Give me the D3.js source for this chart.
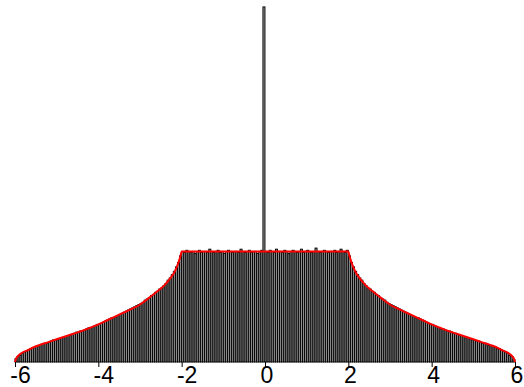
<!DOCTYPE html>
<html>
<head>
<meta charset="utf-8">
<script src="https://cdn.jsdelivr.net/npm/d3@7"></script>
<style>
  body { margin: 0; background: #fff; }
  .xAxis text { font-family: Arial, "Liberation Sans", sans-serif; font-size: 23px; fill: #000; }
</style>
</head>
<body>
<div id="chart"></div>
<script>
// histogram: 240 bins of width 0.05 starting at -6
const binStart = -6;
const binWidth = 0.05;

// left tail, x from -6 to -2
const leftTail = [
    0.03, 0.05, 0.06, 0.08, 0.09, 0.10, 0.11, 0.12, 0.13, 0.13,
    0.14, 0.15, 0.16, 0.16, 0.17, 0.17, 0.18, 0.19, 0.20, 0.20,
    0.20, 0.21, 0.22, 0.22, 0.23, 0.24, 0.24, 0.25, 0.26, 0.27,
    0.27, 0.28, 0.28, 0.29, 0.30, 0.31, 0.31, 0.32, 0.33, 0.34,
    0.34, 0.35, 0.36, 0.37, 0.38, 0.39, 0.40, 0.40, 0.41, 0.42,
    0.43, 0.44, 0.45, 0.46, 0.47, 0.48, 0.49, 0.50, 0.51, 0.52,
    0.53, 0.54, 0.56, 0.57, 0.58, 0.60, 0.61, 0.63, 0.64, 0.66,
    0.67, 0.69, 0.71, 0.74, 0.76, 0.79, 0.82, 0.86, 0.90, 0.96
];

// flat middle, x from -2 to 2 (spike in the bin just left of 0)
const middle = [
    1.00, 0.99, 1.01, 1.00, 0.99, 1.00, 0.98, 1.00, 1.01, 0.99,
    1.00, 1.00, 0.99, 1.02, 1.00, 0.99, 1.00, 1.01, 0.99, 1.00,
    0.98, 1.00, 1.01, 1.00, 0.99, 1.00, 1.00, 0.99, 1.02, 1.00,
    0.99, 1.00, 1.01, 0.99, 1.00, 1.00, 0.98, 1.00, 1.01, 3.21,
    1.00, 0.99, 1.01, 1.00, 0.99, 1.02, 1.00, 1.00, 0.99, 1.01,
    1.00, 0.98, 1.00, 1.01, 1.00, 0.99, 1.00, 1.02, 0.99, 1.00,
    1.01, 1.00, 0.99, 1.00, 1.03, 1.00, 0.99, 1.00, 1.01, 1.00,
    0.99, 1.00, 1.00, 1.01, 0.99, 1.00, 1.02, 1.00, 0.99, 1.01
];

// right tail, x from 2 to 6
const rightTail = [
    0.96, 0.90, 0.86, 0.82, 0.79, 0.76, 0.74, 0.71, 0.69, 0.67,
    0.66, 0.64, 0.63, 0.61, 0.60, 0.58, 0.57, 0.56, 0.54, 0.53,
    0.52, 0.51, 0.50, 0.49, 0.48, 0.47, 0.46, 0.45, 0.44, 0.43,
    0.42, 0.41, 0.40, 0.40, 0.39, 0.38, 0.37, 0.36, 0.35, 0.34,
    0.34, 0.33, 0.32, 0.31, 0.30, 0.30, 0.29, 0.28, 0.28, 0.27,
    0.26, 0.26, 0.25, 0.24, 0.24, 0.23, 0.22, 0.22, 0.21, 0.20,
    0.20, 0.19, 0.19, 0.18, 0.17, 0.17, 0.16, 0.15, 0.15, 0.14,
    0.13, 0.12, 0.12, 0.11, 0.10, 0.09, 0.08, 0.06, 0.05, 0.02
];

// red density curve
const curveX = [
    -6, -5.98, -5.95, -5.9, -5.8, -5.7, -5.6, -5.4, -5.2, -5.0, -4.8, -4.6, -4.4, -4.2,
    -4.0, -3.8, -3.6, -3.4, -3.2, -3.0, -2.8, -2.6, -2.5, -2.4, -2.3, -2.2, -2.15, -2.1,
    -2.05, -2.02, -2.0,
    2.0, 2.02, 2.05, 2.1, 2.15, 2.2, 2.3, 2.4, 2.5, 2.6, 2.8, 3.0, 3.2, 3.4, 3.6, 3.8,
    4.0, 4.2, 4.4, 4.6, 4.8, 5.0, 5.2, 5.4, 5.6, 5.7, 5.8, 5.9, 5.95, 5.98, 6
];
const curveY = [
    0, 0.025, 0.045, 0.065, 0.09, 0.105, 0.125, 0.155, 0.18, 0.205, 0.23, 0.255, 0.28, 0.31,
    0.34, 0.375, 0.41, 0.445, 0.48, 0.52, 0.575, 0.635, 0.665, 0.70, 0.745, 0.795, 0.83, 0.875,
    0.93, 0.97, 1.0,
    1.0, 0.97, 0.93, 0.875, 0.83, 0.795, 0.745, 0.70, 0.665, 0.635, 0.575, 0.52, 0.48, 0.445, 0.41, 0.375,
    0.34, 0.31, 0.28, 0.255, 0.23, 0.205, 0.18, 0.155, 0.125, 0.105, 0.09, 0.065, 0.045, 0.025, 0
];

const tickValues = [-6, -4, -2, 0, 2, 4, 6];

const width = 524;
const height = 387;

const counts = leftTail.concat(middle, rightTail);
const bins = counts.map((v, i) => ({ x0: binStart + i * binWidth, x1: binStart + (i + 1) * binWidth, v: v }));

const svg = d3.select("#chart")
    .append("svg")
    .attr("width", width)
    .attr("height", height);

const xScale = d3.scaleLinear().domain([-6, 6]).range([15, 515]);
const yScale = d3.scaleLinear().domain([0, 3.2]).range([362, 8]);

svg.append("g")
    .selectAll("rect")
    .data(bins)
    .enter().append("rect")
    .attr("x", d => xScale(d.x0))
    .attr("y", d => yScale(d.v))
    .attr("width", d => xScale(d.x1) - xScale(d.x0))
    .attr("height", d => yScale(0) - yScale(d.v))
    .attr("fill", "#8c8c8c")
    .attr("stroke", "#000")
    .attr("stroke-width", 0.9);

const line = d3.line()
    .x((d, i) => xScale(curveX[i]))
    .y(d => yScale(d))
    .curve(d3.curveMonotoneX);

svg.append("path")
    .datum(curveY)
    .attr("d", line)
    .attr("fill", "none")
    .attr("stroke", "#ff0000")
    .attr("stroke-width", 2);

const xAxis = d3.axisBottom(xScale)
    .tickValues(tickValues)
    .tickFormat(d => d < 0 ? "-" + Math.abs(d) : String(d))
    .tickSize(5)
    .tickPadding(0);

svg.append("g")
    .attr("class", "xAxis")
    .attr("transform", "translate(0," + yScale(0) + ")")
    .call(xAxis)
    .call(g => g.select(".domain").remove())
    .call(g => g.selectAll("text").attr("dx", d => d < 0 ? 5 : 1.5));
</script>
</body>
</html>
